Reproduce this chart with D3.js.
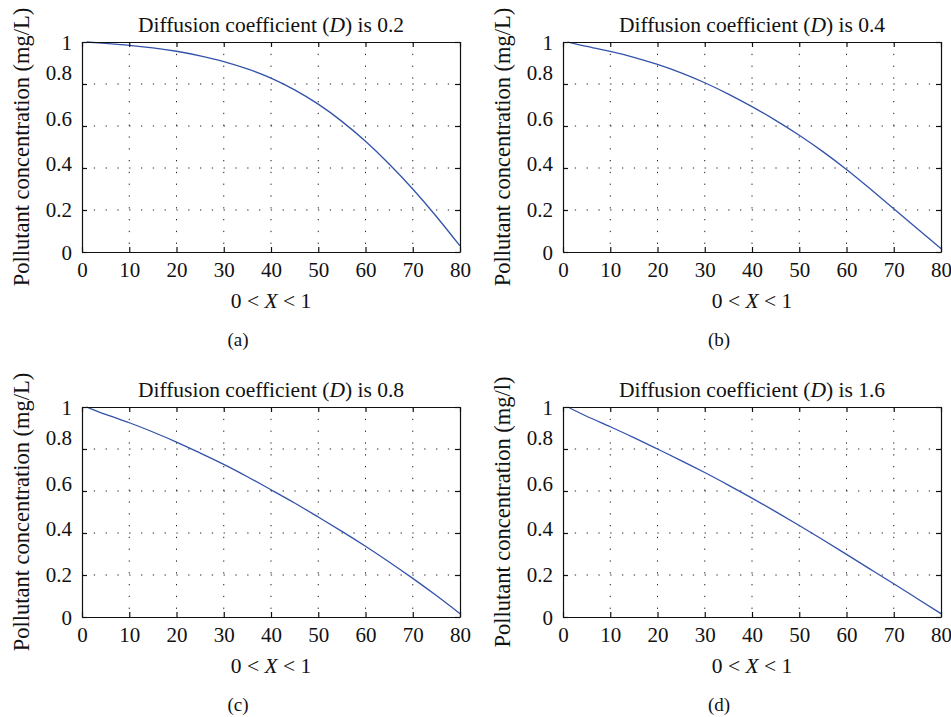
<!DOCTYPE html>
<html>
<head>
<meta charset="UTF-8">
<title>Pollutant concentration for four diffusion coefficients</title>
<style>
  body { margin: 0; background: #fff; }
  svg text { font-family: "Liberation Serif", "DejaVu Serif", serif !important; fill: #111; }
  .grid line { stroke: #222; stroke-width: 1; stroke-dasharray: 1.3 10.5; }
  .box path, .box line { stroke: #111; stroke-width: 1.2; }
</style>
</head>
<body>
<script src="https://d3js.org/d3.v7.min.js"></script>
<svg width="951" height="717"></svg>
<script>
// sample positions along the domain (1..80) and concentrations
var xs = [1, 5, 10, 15, 20, 25, 30, 35, 40, 45, 50, 55, 60, 65, 70, 75, 80];
var concD02 = [1.0, 0.993, 0.984, 0.972, 0.956, 0.934, 0.907, 0.872, 0.828, 0.772, 0.704, 0.622, 0.527, 0.419, 0.300, 0.169, 0.029];
var concD04 = [1.0, 0.979, 0.955, 0.927, 0.893, 0.853, 0.806, 0.752, 0.692, 0.627, 0.556, 0.478, 0.393, 0.301, 0.206, 0.111, 0.016];
var concD08 = [1.0, 0.965, 0.925, 0.881, 0.833, 0.781, 0.727, 0.668, 0.606, 0.543, 0.476, 0.408, 0.337, 0.262, 0.184, 0.102, 0.016];
var concD16 = [1.0, 0.956, 0.906, 0.854, 0.800, 0.745, 0.688, 0.628, 0.566, 0.502, 0.436, 0.368, 0.298, 0.228, 0.158, 0.087, 0.016];

var coefficients = ["0.2", "0.4", "0.8", "1.6"];
var yLabels = ["Pollutant concentration (mg/L)", "Pollutant concentration (mg/L)",
               "Pollutant concentration (mg/L)", "Pollutant concentration (mg/l)"];
var captions = ["(a)", "(b)", "(c)", "(d)"];
var xTicks = [0, 10, 20, 30, 40, 50, 60, 70, 80];
var yTicks = [0, 0.2, 0.4, 0.6, 0.8, 1];
var series = [concD02, concD04, concD08, concD16];

var svg = d3.select("svg");
var w = 378, h = 210;
var origins = [[82, 42], [563, 42], [82, 407], [563, 407]];
// the tick labels of the source sit slightly above their grid lines
var labelShift = {0: 0, 0.2: -1, 0.4: -5, 0.6: -8, 0.8: -12, 1: 0};

var x = d3.scaleLinear().domain([0, 80]).range([0, w]);
var y = d3.scaleLinear().domain([0, 1]).range([h, 0]);

var line = d3.line()
  .x(function(d) { return x(d[0]); })
  .y(function(d) { return y(d[1]); })
  .curve(d3.curveNatural);

series.forEach(function(vals, i) {
  var g = svg.append("g")
    .attr("transform", "translate(" + origins[i][0] + "," + origins[i][1] + ")");

  // dotted grid
  var grid = g.append("g").attr("class", "grid");
  grid.selectAll(".gx").data(xTicks.slice(1, -1)).enter().append("line")
    .attr("x1", function(d) { return x(d); }).attr("x2", function(d) { return x(d); })
    .attr("y1", 0).attr("y2", h);
  grid.selectAll(".gy").data(yTicks.slice(1, -1)).enter().append("line")
    .attr("y1", function(d) { return y(d); }).attr("y2", function(d) { return y(d); })
    .attr("x1", 0).attr("x2", w);

  // curve
  g.append("path")
    .datum(xs.map(function(v, k) { return [v, vals[k]]; }))
    .attr("fill", "none")
    .attr("stroke", "#3352aa")
    .attr("stroke-width", 1.3)
    .attr("d", line);

  // box with inward ticks
  var bottom = g.append("g").attr("class", "box")
    .attr("transform", "translate(0," + h + ")")
    .call(d3.axisBottom(x).tickValues(xTicks).tickSize(-5).tickSizeOuter(0).tickFormat(d3.format("d")));
  bottom.selectAll("text").attr("y", 25).attr("dy", null);

  var left = g.append("g").attr("class", "box")
    .call(d3.axisLeft(y).tickValues(yTicks).tickSize(-5).tickSizeOuter(0)
      .tickFormat(function(d) { return d === 0 || d === 1 ? String(d) : d.toFixed(1); }));
  left.selectAll("text").attr("x", -10).attr("dy", function(d) { return (labelShift[d] + 7) + "px"; });

  g.append("g").attr("class", "box")
    .call(d3.axisTop(x).tickValues(xTicks).tickSize(-5).tickSizeOuter(0).tickFormat(""));
  g.append("g").attr("class", "box")
    .attr("transform", "translate(" + w + ",0)")
    .call(d3.axisRight(y).tickValues(yTicks).tickSize(-5).tickSizeOuter(0).tickFormat(""));

  g.selectAll(".box").attr("font-family", null).attr("font-size", null);
  g.selectAll(".box text").style("font-size", "21px");

  // title
  var t = g.append("text")
    .attr("x", w / 2).attr("y", -10)
    .attr("text-anchor", "middle")
    .style("font-size", "21.5px");
  t.append("tspan").text("Diffusion coefficient (");
  t.append("tspan").style("font-style", "italic").text("D");
  t.append("tspan").text(") is " + coefficients[i]);

  // y label
  g.append("text")
    .attr("transform", "translate(-53," + (h / 2) + ") rotate(-90)")
    .attr("text-anchor", "middle")
    .style("font-size", "22.5px")
    .text(yLabels[i]);

  // x label
  var xl = g.append("text")
    .attr("x", w / 2).attr("y", h + 56)
    .attr("text-anchor", "middle")
    .style("font-size", "21.5px");
  xl.append("tspan").text("0 < ");
  xl.append("tspan").style("font-style", "italic").text("X");
  xl.append("tspan").text(" < 1");

  // caption
  g.append("text")
    .attr("x", (i % 2 === 0 ? 238 : 719) - origins[i][0])
    .attr("y", h + 94)
    .attr("text-anchor", "middle")
    .style("font-size", "19px")
    .text(captions[i]);
});
</script>
</body>
</html>
